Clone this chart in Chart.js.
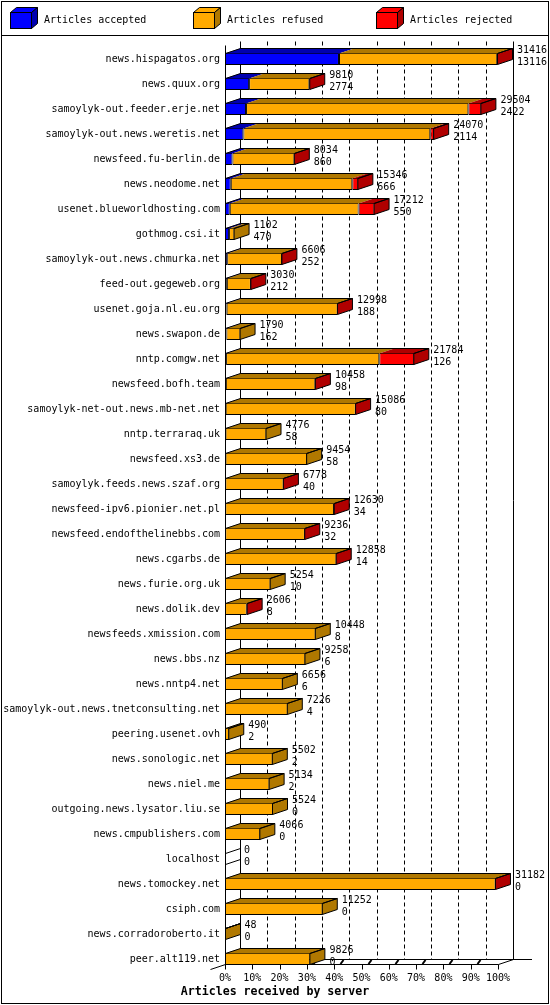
<!DOCTYPE html>
<html><head><meta charset="utf-8">
<script src="https://cdn.jsdelivr.net/npm/chart.js@4/dist/chart.umd.min.js"></script>
<style>html,body{margin:0;padding:0;background:#fff;}canvas{display:block;}</style>
</head><body>
<canvas id="c" width="550" height="1005"></canvas>
<script>
const servers = [
  'news.hispagatos.org','news.quux.org','samoylyk-out.feeder.erje.net','samoylyk-out.news.weretis.net',
  'newsfeed.fu-berlin.de','news.neodome.net','usenet.blueworldhosting.com','gothmog.csi.it',
  'samoylyk-out.news.chmurka.net','feed-out.gegeweb.org','usenet.goja.nl.eu.org','news.swapon.de',
  'nntp.comgw.net','newsfeed.bofh.team','samoylyk-net-out.news.mb-net.net','nntp.terraraq.uk',
  'newsfeed.xs3.de','samoylyk.feeds.news.szaf.org','newsfeed-ipv6.pionier.net.pl','newsfeed.endofthelinebbs.com',
  'news.cgarbs.de','news.furie.org.uk','news.dolik.dev','newsfeeds.xmission.com',
  'news.bbs.nz','news.nntp4.net','samoylyk-out.news.tnetconsulting.net','peering.usenet.ovh',
  'news.sonologic.net','news.niel.me','outgoing.news.lysator.liu.se','news.cmpublishers.com',
  'localhost','news.tomockey.net','csiph.com','news.corradoroberto.it','peer.alt119.net'
];
const totals = [31416,9810,29504,24070,8034,15346,17212,1102,6606,3030,12998,1790,21784,10458,15086,4776,9454,6778,12630,9236,12858,5254,2606,10448,9258,6656,7226,490,5502,5134,5524,4066,0,31182,11252,48,9826];
const accepted = [13116,2774,2422,2114,860,666,550,470,252,212,188,162,126,98,80,58,58,40,34,32,14,10,8,8,6,6,4,2,2,2,0,0,0,0,0,0,0];
const refused = [18210,6936,25582,21506,7134,13980,14822,632,6314,2768,12780,1628,17628,10300,14966,4718,9396,6708,12516,9164,12814,5244,2498,10440,9252,6650,7222,488,5500,5132,5524,4066,0,31142,11252,48,9826];
const rejected = [90,100,1500,450,40,700,1840,0,40,50,30,0,4030,60,40,0,0,30,80,40,30,0,100,0,0,0,0,0,0,0,0,0,0,40,0,0,0];
const seriesLabels = ['Articles accepted','Articles refused','Articles rejected'];
const frontColors = ['#0000ff','#ffaa00','#ff0000'];
const darkColors = ['#0000b0','#b07800','#b00000'];
const axisTitle = 'Articles received by server';
const tickPercents = [0,10,20,30,40,50,60,70,80,90,100];

const FONT = '"DejaVu Sans Mono", "Liberation Mono", monospace';
const DX = 15, DY = 5;
const maxTotal = Math.max(...totals);

Chart.defaults.font.family = FONT;
Chart.defaults.font.size = 10;
Chart.defaults.color = '#000';

function poly(ctx, pts, fill, stroke) {
  ctx.beginPath();
  ctx.moveTo(pts[0][0], pts[0][1]);
  for (let i = 1; i < pts.length; i++) ctx.lineTo(pts[i][0], pts[i][1]);
  ctx.closePath();
  if (fill) { ctx.fillStyle = fill; ctx.fill(); }
  if (stroke) { ctx.strokeStyle = stroke; ctx.stroke(); }
}
function line(ctx, x1, y1, x2, y2) {
  ctx.beginPath(); ctx.moveTo(x1, y1); ctx.lineTo(x2, y2); ctx.stroke();
}

const threeD = {
  id: 'threeD',
  beforeDraw(chart) {
    const ctx = chart.ctx;
    ctx.save();
    ctx.fillStyle = '#fff';
    ctx.fillRect(0, 0, chart.width, chart.height);
    ctx.strokeStyle = '#000';
    ctx.lineWidth = 1;
    ctx.strokeRect(1.5, 1.5, 547, 1002);
    line(ctx, 1, 35.5, 549, 35.5);
    // legend with 3D boxes
    ctx.font = '10px ' + FONT;
    ctx.textBaseline = 'middle';
    ctx.textAlign = 'left';
    chart.data.datasets.forEach((ds, i) => {
      const bx = 10.5 + 183 * i, by = 12.5, w = 21, h = 16;
      poly(ctx, [[bx, by], [bx + 6, by - 5], [bx + w + 6, by - 5], [bx + w, by]], frontColors[i], '#000');
      poly(ctx, [[bx + w, by], [bx + w + 6, by - 5], [bx + w + 6, by + h - 5], [bx + w, by + h]], darkColors[i], '#000');
      ctx.fillStyle = frontColors[i];
      ctx.fillRect(bx, by, w, h);
      ctx.strokeRect(bx, by, w, h);
      ctx.fillStyle = '#000';
      ctx.fillText(ds.label, bx + 33.5, 20);
    });
    ctx.restore();
  },
  beforeDatasetsDraw(chart) {
    const ctx = chart.ctx, xs = chart.scales.x, ys = chart.scales.y;
    const x0 = xs.getPixelForValue(0), x100 = xs.getPixelForValue(maxTotal);
    const c0 = ys.getPixelForValue(0), cN = ys.getPixelForValue(servers.length - 1);
    const wallTop = Math.round(c0 - 18) + 0.5;
    const frontTop = Math.round(c0 - 14) + 0.5;
    const floorF = Math.round(cN + 5) + 0.5;
    const floorB = floorF - DY;
    ctx.save();
    ctx.strokeStyle = '#000';
    ctx.lineWidth = 1;
    ctx.setLineDash([4, 3]);
    tickPercents.forEach(p => {
      if (p === 0 || p === 100) return;
      const xb = Math.round(xs.getPixelForValue(maxTotal * p / 100) + DX) + 0.5;
      line(ctx, xb, wallTop, xb, floorB);
    });
    ctx.setLineDash([]);
    const xl = Math.round(x0) + 0.5, xr = Math.round(x100) + 0.5;
    line(ctx, xl + DX, wallTop, xl + DX, floorB);
    line(ctx, xr + DX, wallTop, xr + DX, floorB);
    line(ctx, xl, frontTop, xl, floorF);
    line(ctx, xl, floorF, xr, floorF);
    line(ctx, xr, floorF, xr + DX, floorB);
    line(ctx, xl + DX, floorB, 532, floorB);
    line(ctx, xl - DX, floorF + DY, xl + DX, floorB);
    tickPercents.forEach(p => {
      const xt = Math.round(xs.getPixelForValue(maxTotal * p / 100)) + 0.5;
      line(ctx, xt, floorF, xt, floorF + 5);
      if (p !== 100) {
        ctx.lineWidth = 2;
        line(ctx, xt + 6, floorF - 0.5, xt + 9, floorB + 0.5);
        ctx.lineWidth = 1;
      }
    });
    ctx.restore();
  },
  afterDatasetsDraw(chart) {
    const ctx = chart.ctx, xs = chart.scales.x;
    const metas = chart.data.datasets.map((d, i) => chart.getDatasetMeta(i));
    const x0 = xs.getPixelForValue(0);
    ctx.save();
    ctx.lineWidth = 1;
    ctx.strokeStyle = '#000';
    for (let j = 0; j < servers.length; j++) {
      const props = metas.map(m => m.data[j].getProps(['x', 'y', 'base', 'height'], true));
      const yc = props[0].y, h = props[0].height;
      const T = yc - h / 2 + 0.5, B = yc + h / 2 - 0.5;
      const xEnd = xs.getPixelForValue(totals[j]);
      let last = -1;
      props.forEach((p, i) => {
        const a = Math.min(p.base, p.x), b = Math.max(p.base, p.x);
        if (b - a > 0.01) {
          poly(ctx, [[a, T], [a + DX, T - DY], [b + DX, T - DY], [b, T]], darkColors[i], null);
          last = i;
        }
      });
      const XL = x0 + 0.5, XE = Math.max(xEnd - 0.5, XL);
      if (last >= 0) {
        poly(ctx, [[XE, T], [XE + DX, T - DY], [XE + DX, B - DY], [XE, B]], darkColors[last], '#000');
        ctx.beginPath();
        ctx.moveTo(XL, T); ctx.lineTo(XL + DX, T - DY); ctx.lineTo(XE + DX, T - DY);
        ctx.moveTo(XE, T); ctx.lineTo(XE + DX, T - DY);
        ctx.stroke();
      } else {
        line(ctx, XL, T, XL + DX, T - DY);
        line(ctx, XL, B, XL + DX, B - DY);
      }
      ctx.fillStyle = '#000';
      ctx.font = '10px ' + FONT;
      ctx.textAlign = 'left';
      ctx.textBaseline = 'middle';
      const tx = xEnd + DX + 4;
      ctx.fillText(String(totals[j]), tx, yc - 9);
      ctx.fillText(String(accepted[j]), tx, yc + 3);
    }
    ctx.restore();
  }
};

new Chart(document.getElementById('c'), {
  type: 'bar',
  data: {
    labels: servers,
    datasets: [
      { label: seriesLabels[0], data: accepted, backgroundColor: frontColors[0] },
      { label: seriesLabels[1], data: refused, backgroundColor: frontColors[1] },
      { label: seriesLabels[2], data: rejected, backgroundColor: frontColors[2] }
    ]
  },
  options: {
    indexAxis: 'y',
    responsive: false,
    animation: false,
    events: [],
    layout: { padding: { top: 46.5, right: 0, bottom: 6.5, left: 0 } },
    datasets: {
      bar: { barThickness: 12, borderWidth: 1, borderColor: '#000', borderSkipped: false, inflateAmount: 0 }
    },
    scales: {
      x: {
        stacked: true, min: 0, max: maxTotal,
        grid: { display: false, drawTicks: false }, border: { display: false },
        afterBuildTicks: s => { s.ticks = tickPercents.map(p => ({ value: maxTotal * p / 100 })); },
        ticks: { padding: 1, autoSkip: false, maxRotation: 0, callback: (v) => Math.round(v / maxTotal * 100) + '%' },
        afterFit: s => { s.height = 13.08; }
      },
      y: {
        stacked: true,
        grid: { display: false, drawTicks: false }, border: { display: false },
        ticks: { padding: 5, autoSkip: false },
        afterFit: s => { s.width = 225; }
      },
      y2: {
        type: 'linear', position: 'right', display: true,
        grid: { display: false, drawTicks: false }, border: { display: false },
        ticks: { display: false },
        afterFit: s => { s.width = 52; }
      }
    },
    plugins: {
      legend: { display: false },
      tooltip: { enabled: false },
      title: {
        display: true, position: 'bottom', text: axisTitle, color: '#000',
        padding: 0, font: { family: FONT, size: 11.6, weight: 'bold' }
      }
    }
  },
  plugins: [threeD]
});
</script>
</body></html>
